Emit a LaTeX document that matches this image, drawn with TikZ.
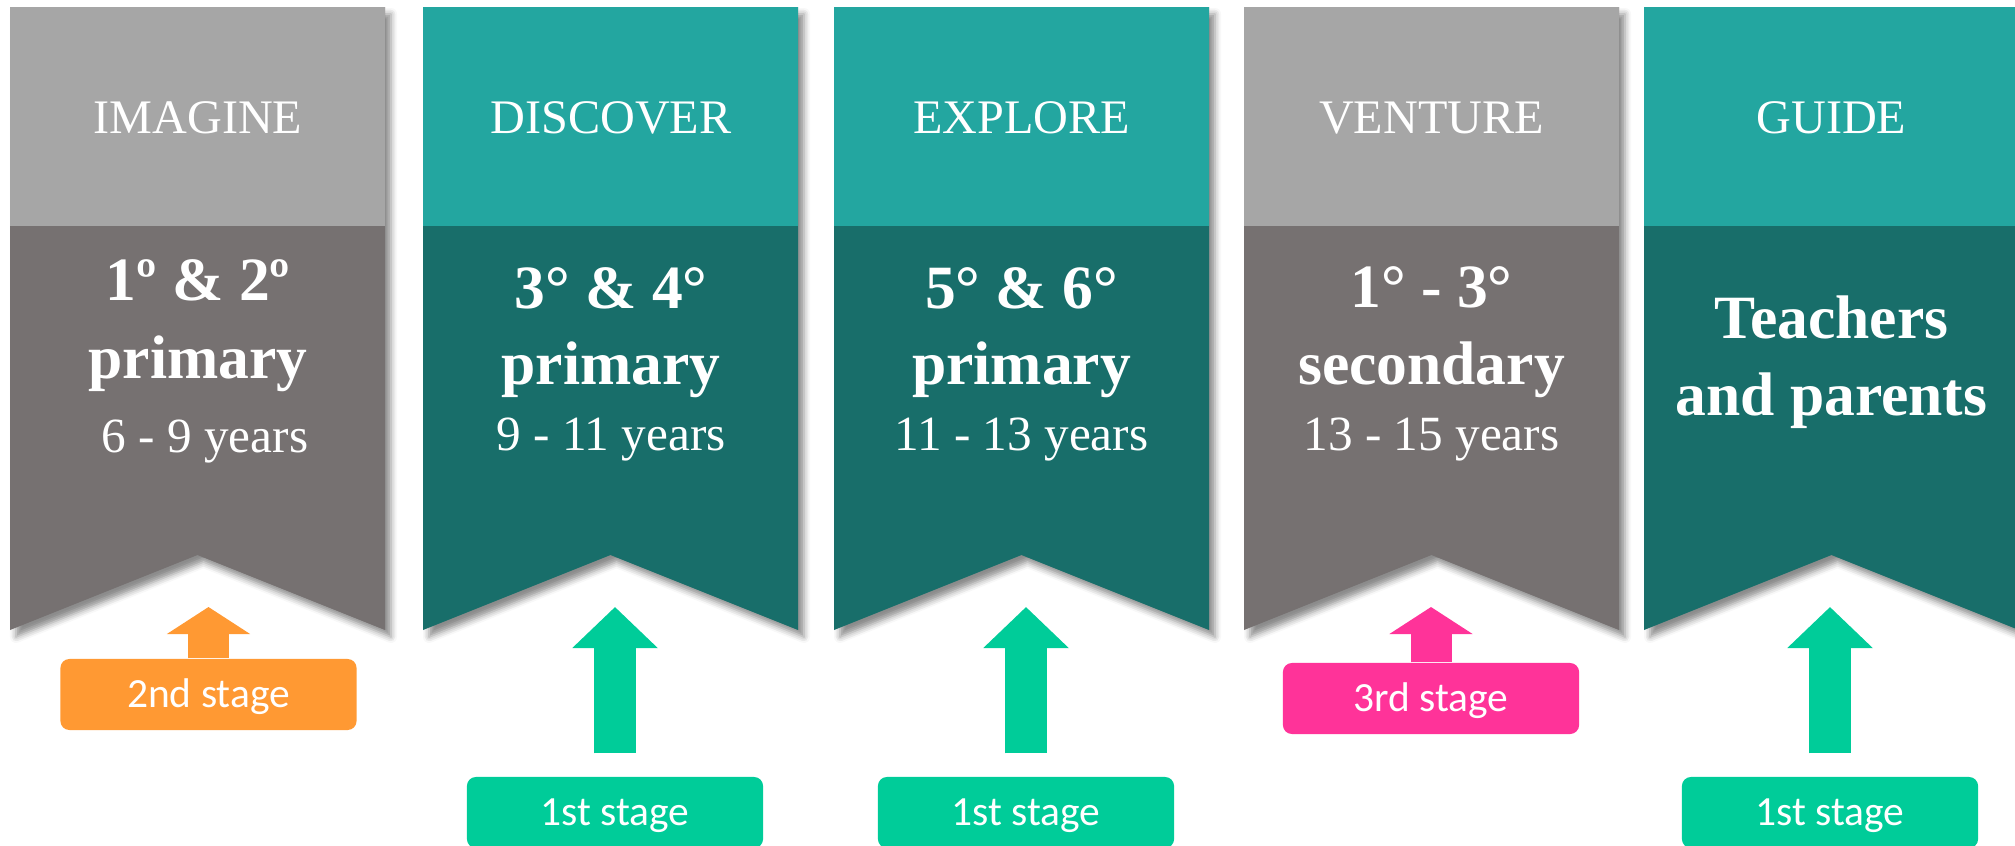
\documentclass[tikz,border=0pt]{standalone}
\usepackage{fontspec}
\setmainfont{Liberation Serif}
\newfontfamily\stagefont{Carlito}
\usetikzlibrary{arrows.meta,shadows.blur}
\definecolor{headgray}{HTML}{A6A6A6}
\definecolor{bodygray}{HTML}{767171}
\definecolor{headteal}{HTML}{23A6A0}
\definecolor{bodyteal}{HTML}{186E6A}
\definecolor{stagegreen}{HTML}{00CC99}
\definecolor{stageorange}{HTML}{FF9933}
\definecolor{stagepink}{HTML}{FF3399}

\begin{document}
\begin{tikzpicture}[x=0.01cm,y=-0.01cm]
    \tikzstyle{ribbon}=[blur shadow={shadow xshift=0.06cm,shadow yshift=-0.07cm,shadow blur radius=0.06cm,shadow opacity=45}]
    \tikzstyle{head text}=[text=white,anchor=base,inner sep=0,font=\fontsize{13.7}{16}\selectfont]
    \tikzstyle{grade text}=[text=white,anchor=base,inner sep=0,font=\fontsize{17.5}{21}\selectfont\bfseries]
    \tikzstyle{age text}=[text=white,anchor=base,inner sep=0,font=\fontsize{14}{17}\selectfont]
    \tikzstyle{stage node}=[rounded corners=0.09cm,minimum width=2.96cm,minimum height=0.71cm,inner sep=0,text height=0.75em,text depth=0pt,text=white,font=\stagefont\fontsize{11.8}{14}\selectfont]
    \tikzstyle{long arrow}=[line width=0.42cm,-{Triangle[width=0.83cm,length=0.41cm]}]
    \tikzstyle{short arrow}=[line width=0.41cm,-{Triangle[width=0.82cm,length=0.27cm]}]

    \useasboundingbox (0,0) rectangle (2015,845);

    \fill[bodygray,ribbon] (10,7) -- (385,7) -- (385,630) -- (197.5,555) -- (10,630) -- cycle;
    \fill[headgray] (10,7) rectangle (385,226);
    \fill[bodyteal,ribbon] (423,7) -- (798,7) -- (798,630) -- (610.5,555) -- (423,630) -- cycle;
    \fill[headteal] (423,7) rectangle (798,226);
    \fill[bodyteal,ribbon] (834,7) -- (1209,7) -- (1209,630) -- (1021.5,555) -- (834,630) -- cycle;
    \fill[headteal] (834,7) rectangle (1209,226);
    \fill[bodygray,ribbon] (1244,7) -- (1619,7) -- (1619,630) -- (1431.5,555) -- (1244,630) -- cycle;
    \fill[headgray] (1244,7) rectangle (1619,226);
    \fill[bodyteal,ribbon] (1644,7) -- (2019,7) -- (2019,630) -- (1831.5,555) -- (1644,630) -- cycle;
    \fill[headteal] (1644,7) rectangle (2019,226);

    \node(imagine)[head text] at (198,133) {IMAGINE};
    \node(imagine-grade)[grade text] at (198,300) {1º \& 2º};
    \node(imagine-level)[grade text] at (198,378) {primary};
    \node(imagine-age)[age text] at (205,452) {6 - 9 years};

    \node(discover)[head text] at (611,133) {DISCOVER};
    \node(discover-grade)[grade text] at (611,308) {3° \& 4°};
    \node(discover-level)[grade text] at (611,384) {primary};
    \node(discover-age)[age text] at (611,450) {9 - 11 years};

    \node(explore)[head text] at (1021.5,133) {EXPLORE};
    \node(explore-grade)[grade text] at (1021.5,308) {5° \& 6°};
    \node(explore-level)[grade text] at (1021.5,384) {primary};
    \node(explore-age)[age text] at (1021.5,450) {11 - 13 years};

    \node(venture)[head text] at (1431.5,133) {VENTURE};
    \node(venture-grade)[grade text] at (1431.5,307) {1° - 3°};
    \node(venture-level)[grade text] at (1431.5,384) {secondary};
    \node(venture-age)[age text] at (1431.5,450) {13 - 15 years};

    \node(guide)[head text] at (1831.5,133) {GUIDE};
    \node(guide-who)[grade text] at (1831.5,338) {Teachers};
    \node(guide-who2)[grade text] at (1831.5,415) {and parents};

    \node(stage-a)[stage node,fill=stageorange] at (208.5,694.5) {2nd stage};
    \node(stage-b)[stage node,fill=stagegreen] at (615,812.5) {1st stage};
    \node(stage-c)[stage node,fill=stagegreen] at (1026,812.5) {1st stage};
    \node(stage-d)[stage node,fill=stagepink] at (1431,698.5) {3rd stage};
    \node(stage-e)[stage node,fill=stagegreen] at (1830,812.5) {1st stage};

    \coordinate(tip-a) at (208.5,607);
    \coordinate(tip-b) at (615,607);
    \coordinate(tip-c) at (1026,607);
    \coordinate(tip-d) at (1431,607);
    \coordinate(tip-e) at (1830,607);

    \draw[short arrow,stageorange](stage-a.north)--(tip-a);
    \draw[long arrow,stagegreen]([yshift=0.23cm]stage-b.north)--(tip-b);
    \draw[long arrow,stagegreen]([yshift=0.23cm]stage-c.north)--(tip-c);
    \draw[short arrow,stagepink](stage-d.north)--(tip-d);
    \draw[long arrow,stagegreen]([yshift=0.23cm]stage-e.north)--(tip-e);
\end{tikzpicture}
\end{document}
